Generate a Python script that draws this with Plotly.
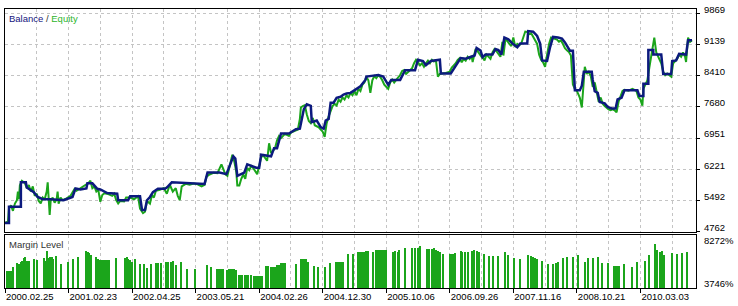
import plotly.graph_objects as go

# ---------------- data ----------------
bal_x = [0, 4, 4, 16, 16, 21, 22, 29, 33, 38, 46, 59, 68, 71, 76, 82, 83, 88, 93, 96, 103, 113, 114, 124, 126, 136,
         138, 141, 143, 146, 149, 154, 161, 163, 168, 183, 193, 201, 204, 216, 223, 230, 232, 234, 241, 244, 253, 256,
         258, 268, 271, 274, 278, 286, 293, 297, 301, 304, 308, 309, 314, 318, 321, 323, 326, 328, 331, 334, 338, 341,
         344, 348, 353, 358, 363, 364, 371, 376, 381, 386, 389, 398, 403, 413, 416, 421, 424, 429, 438, 439, 449, 454,
         459, 464, 473, 475, 479, 481, 484, 491, 494, 497, 500, 503, 507, 511, 516, 519, 526, 527, 532, 536, 539, 541,
         546, 549, 552, 557, 561, 564, 569, 572, 574, 579, 581, 583, 591, 592, 594, 597, 599, 604, 607, 611, 615, 617,
         621, 624, 637, 639, 643, 643, 648, 648, 653, 653, 661, 663, 671, 672, 676, 679, 686, 688, 692]
bal_y = [4967, 4967, 5346, 5346, 5916, 5916, 5795, 5688, 5574, 5521, 5521, 5498, 5574, 5772, 5749, 5772, 5893, 5893,
         5765, 5749, 5665, 5651, 5498, 5498, 5590, 5590, 5270, 5270, 5498, 5574, 5688, 5765, 5765, 5795, 5916, 5893,
         5893, 5879, 6144, 6144, 6107, 6524, 6472, 6068, 6144, 6335, 6258, 6258, 6563, 6524, 6714, 6714, 7056, 7056,
         7156, 7170, 7626, 7740, 7703, 7322, 7361, 7208, 7170, 7361, 7398, 7778, 7778, 7892, 7915, 7968, 7990, 8006,
         8082, 8159, 8310, 8387, 8410, 8424, 8387, 8196, 8310, 8310, 8538, 8538, 8782, 8752, 8652, 8752, 8782, 8462,
         8462, 8652, 8820, 8804, 8880, 9055, 8994, 8843, 8902, 8902, 9032, 9009, 8902, 9299, 9260, 9162, 9071, 9162,
         9162, 9450, 9436, 9336, 9162, 8766, 8752, 9071, 9313, 9299, 9276, 9185, 8994, 8994, 8068, 8068, 8173, 8501,
         8501, 8310, 8045, 8006, 7794, 7762, 7680, 7642, 7642, 7854, 7892, 8068, 8068, 7931, 7931, 8218, 8218, 9010,
         9010, 8902, 8902, 8446, 8446, 8752, 8766, 8918, 8902, 9238, 9238]

eq_x = [0, 3, 4, 6, 8, 10, 12, 13, 14, 15, 17, 20, 22, 24, 26, 28, 30, 32, 34, 36, 38, 40, 42, 43, 45, 46, 48, 50,
        52, 53, 54, 56, 58, 62, 66, 68, 70, 72, 76, 80, 84, 86, 88, 90, 92, 94, 96, 98, 100, 104, 108, 110, 112, 114,
        116, 120, 122, 126, 130, 134, 136, 139, 141, 143, 146, 148, 150, 152, 156, 160, 163, 166, 169, 172, 174, 176,
        178, 182, 186, 190, 194, 198, 201, 203, 206, 210, 214, 218, 220, 222, 224, 226, 228, 229, 231, 233, 234, 236,
        238, 240, 242, 244, 246, 248, 250, 252, 254, 256, 258, 260, 262, 264, 266, 268, 270, 272, 274, 276, 278, 282,
        286, 288, 292, 295, 297, 298, 300, 302, 304, 306, 308, 310, 312, 316, 318, 320, 322, 324, 326, 328, 330, 332,
        334, 336, 338, 340, 342, 344, 346, 348, 350, 352, 354, 356, 358, 360, 362, 364, 366, 368, 370, 372, 374, 376,
        378, 380, 382, 384, 386, 388, 390, 392, 394, 396, 398, 400, 402, 404, 406, 408, 410, 412, 414, 416, 418, 420,
        422, 424, 426, 428, 430, 432, 434, 436, 438, 440, 444, 448, 450, 452, 454, 456, 458, 460, 462, 464, 466, 468,
        470, 471, 473, 474, 476, 478, 480, 482, 483, 485, 487, 489, 491, 493, 495, 497, 499, 501, 502, 504, 506, 508,
        510, 512, 514, 516, 518, 520, 522, 524, 526, 528, 530, 532, 534, 536, 538, 540, 542, 544, 546, 548, 550, 552,
        554, 556, 558, 560, 562, 564, 566, 568, 570, 572, 574, 576, 578, 579, 581, 582, 584, 586, 588, 590, 592, 594,
        596, 598, 600, 602, 604, 606, 608, 610, 612, 614, 616, 618, 620, 622, 624, 628, 632, 636, 638, 640, 642, 643,
        645, 647, 649, 651, 654, 656, 658, 659, 661, 663, 665, 667, 669, 671, 673, 675, 677, 679, 681, 683, 685, 686,
        687, 688, 690, 692]
eq_y = [4967, 5000, 5300, 5380, 5250, 5420, 5500, 5700, 5520, 5850, 5950, 5900, 5780, 5850, 5700, 5820, 5600, 5650,
        5480, 5423, 5560, 5520, 5700, 5916, 5156, 5480, 5560, 5440, 5520, 5700, 5420, 5560, 5500, 5540, 5600, 5700,
        5760, 5720, 5780, 5850, 5900, 5955, 5780, 5820, 5700, 5740, 5460, 5620, 5660, 5640, 5600, 5650, 5500, 5420,
        5480, 5470, 5560, 5560, 5520, 5590, 5300, 5195, 5230, 5480, 5420, 5620, 5560, 5720, 5740, 5780, 5650, 5860,
        5700, 5780, 5600, 5500, 5820, 5880, 5860, 5890, 5870, 5820, 5860, 6050, 6100, 6140, 6130, 6335, 6200, 6100,
        6068, 6300, 6450, 6563, 6400, 6150, 5840, 5840, 6000, 6100, 6000, 6250, 6200, 6300, 6250, 6180, 6107, 6300,
        6500, 6550, 6480, 6420, 6828, 6600, 6650, 6720, 6900, 7000, 6950, 7050, 7000, 7080, 7120, 7150, 7400, 7664,
        7700, 7720, 7500, 7350, 7300, 7420, 7250, 7200, 7150, 7100, 6980, 7300, 7460, 7600, 7700, 7750, 7710, 7850,
        7800, 7900, 7850, 7950, 7900, 8000, 7950, 8050, 7950, 8100, 8050, 8200, 8250, 8380, 8300, 8006, 8300, 8400,
        8350, 8420, 8380, 8300, 8200, 8150, 8100, 8250, 8320, 8250, 8300, 8350, 8424, 8520, 8540, 8450, 8500, 8550,
        8580, 8700, 8780, 8720, 8650, 8700, 8620, 8700, 8760, 8700, 8780, 8740, 8780, 8387, 8450, 8460, 8470, 8500,
        8600, 8650, 8700, 8780, 8820, 8720, 8800, 8760, 8850, 8800, 8870, 8729, 8900, 9032, 8980, 8900, 8850, 8800,
        8766, 8900, 8850, 8804, 8950, 9030, 8980, 8900, 8850, 9200, 8880, 9250, 9220, 9150, 9100, 9299, 9080, 9150,
        9120, 9160, 9300, 9440, 9430, 9380, 9400, 9320, 9250, 9150, 8900, 8780, 8720, 8615, 8900, 9150, 9300, 9280,
        9260, 9250, 9200, 9230, 9150, 9050, 9000, 8960, 8880, 8200, 8100, 8050, 7950, 7892, 7664, 8000, 8615, 8450,
        8500, 8400, 8150, 8250, 8000, 7800, 7900, 7750, 7700, 7650, 7620, 7600, 7620, 7600, 7551, 7800, 7950, 8050,
        8080, 8060, 8100, 8050, 7900, 7850, 7710, 8100, 8200, 8300, 8600, 8900, 9299, 8950, 8850, 8766, 8700, 8500,
        8420, 8460, 8420, 8387, 8700, 8750, 8800, 8900, 8850, 8950, 8850, 8729, 9000, 9299, 9200, 9238]

ml_x = [2, 3, 5, 6, 8, 12, 13, 15, 16, 17, 19, 20, 21, 23, 24, 29, 32, 39, 40, 42, 44, 46, 48, 49, 52, 57, 64, 69,
        74, 82, 84, 85, 87, 92, 94, 96, 98, 99, 101, 103, 105, 112, 121, 123, 124, 126, 128, 131, 136, 140, 143, 147,
        152, 154, 157, 162, 164, 167, 169, 172, 177, 184, 192, 204, 208, 214, 216, 218, 220, 224, 226, 228, 229, 231,
        233, 236, 238, 239, 242, 243, 245, 248, 251, 253, 255, 257, 259, 263, 265, 268, 270, 272, 273, 274, 275, 276,
        278, 279, 280, 282, 293, 298, 300, 301, 303, 305, 311, 315, 323, 328, 334, 336, 338, 340, 341, 346, 351, 356,
        358, 360, 362, 363, 364, 366, 371, 374, 376, 378, 380, 382, 384, 391, 393, 396, 397, 403, 410, 413, 416, 418,
        425, 427, 430, 432, 434, 436, 438, 441, 448, 450, 451, 453, 459, 461, 464, 467, 471, 473, 476, 478, 483, 488,
        492, 497, 504, 507, 513, 519, 527, 530, 532, 534, 536, 541, 547, 552, 555, 557, 562, 566, 572, 577, 584, 587,
        592, 597, 602, 608, 614, 616, 617, 619, 624, 632, 637, 645, 649, 655, 657, 660, 662, 664, 672, 677, 682, 687]
ml_y = [5529, 5529, 5529, 5529, 5976, 6387, 6318, 6250, 6490, 6661, 6902, 7005, 6661, 6661, 6661, 6833, 6764, 6902,
        6661, 7622, 6902, 7005, 7005, 6833, 7108, 6318, 6490, 6833, 7005, 7690, 7587, 7450, 7245, 7005, 6833, 6730,
        6764, 6764, 6764, 6764, 6764, 6902, 6936, 7005, 6833, 6730, 6490, 6833, 6318, 6318, 5907, 6318, 6387, 6387,
        6387, 6490, 6558, 6558, 6627, 6216, 6558, 5804, 5804, 6216, 5976, 5735, 5735, 5735, 5735, 5632, 5804, 5804,
        5804, 5804, 5632, 5187, 5187, 5187, 5118, 5118, 5118, 5118, 5050, 5050, 5050, 5050, 5050, 6113, 6113, 6010,
        6010, 6010, 6010, 6144, 6144, 6144, 6390, 6390, 6390, 6390, 6288, 6833, 6833, 6833, 6833, 6555, 6113, 6010,
        6010, 6452, 6555, 6555, 6555, 6555, 6555, 7348, 7348, 7522, 7522, 7522, 7522, 7522, 7656, 7656, 7587, 7759,
        7759, 7759, 7759, 7759, 7759, 7587, 7690, 7587, 7793, 8034, 7931, 7931, 8034, 8171, 7862, 7862, 7862, 7931,
        7793, 7622, 7519, 7348, 7348, 7348, 7348, 7450, 7622, 7587, 7519, 7519, 7690, 7759, 7622, 7519, 7348, 7176,
        7176, 7176, 7587, 7245, 6902, 6833, 7245, 7108, 7005, 6936, 6833, 6661, 6318, 6318, 6387, 6558, 6902, 7073,
        7005, 7279, 6558, 6902, 6902, 7005, 6421, 6421, 6079, 6079, 6079, 6079, 6318, 6010, 6558, 6661, 7245, 8377,
        7793, 7587, 7622, 7245, 7450, 7348, 7450, 7587]

tick_pos = [0, 64, 128, 192, 256, 320, 384, 448, 512, 576, 640]
tick_dates = ["2000.02.25", "2001.02.23", "2002.04.25", "2003.05.21", "2004.02.26", "2004.12.30",
              "2005.10.06", "2006.09.26", "2007.11.16", "2008.10.21", "2010.03.03"]
bal_ticks = [4762, 5492, 6221, 6951, 7680, 8410, 9139, 9869]
ml_ticks = [3746, 8272]
ml_ticktext = ["3746%", "8272%"]

# ---------------- style ----------------
FONT = "Liberation Sans, Arial, sans-serif"
NAVY = "#0c1a7e"
GREEN = "#1ba51b"
GRID = "#c4c4c4"

fig = go.Figure()
fig.add_trace(go.Scatter(x=eq_x, y=eq_y, mode="lines", line=dict(color=GREEN, width=2),
                         xaxis="x", yaxis="y", hoverinfo="skip"))
fig.add_trace(go.Scatter(x=bal_x, y=bal_y, mode="lines", line=dict(color=NAVY, width=2.5),
                         xaxis="x", yaxis="y", hoverinfo="skip"))
fig.add_trace(go.Bar(x=ml_x, y=[v - 3746 for v in ml_y], base=3746, width=1.4,
                     marker=dict(color=GREEN, line=dict(width=0)),
                     xaxis="x2", yaxis="y2", hoverinfo="skip"))

XR = [0, 696]
grid32 = list(range(0, 700, 32))
minor_grid = [v for v in grid32 if v not in tick_pos]

fig.update_layout(
    width=738, height=306,
    margin=dict(l=4, r=38, t=4, b=16),
    paper_bgcolor="white", plot_bgcolor="white",
    showlegend=False, bargap=0,
    font=dict(family=FONT, size=9.5, color="#000000"),
    xaxis=dict(domain=[0, 1], anchor="y", range=XR, tickmode="array", tickvals=grid32,
               showticklabels=False, ticks="", showgrid=True, gridcolor=GRID, griddash="3px,3px",
               gridwidth=1, showline=True, linecolor="black", linewidth=1, mirror=True, zeroline=False),
    yaxis=dict(domain=[0.1993, 1], anchor="x", side="right", range=[4746, 9967], tickmode="array",
               tickvals=bal_ticks, ticktext=[str(v) for v in bal_ticks], ticks="outside", ticklen=3,
               tickcolor="black", ticklabelshift=-4, ticklabelstandoff=2, ticklabeloverflow="allow",
               showgrid=True, gridcolor=GRID, griddash="3px,3px", gridwidth=1,
               showline=True, linecolor="black", linewidth=1, mirror=True, zeroline=False),
    xaxis2=dict(domain=[0, 1], anchor="y2", range=XR, tickmode="array", tickvals=tick_pos,
                ticktext=tick_dates, ticks="outside", ticklen=4, tickcolor="black",
                ticklabelposition="outside right", ticklabeloverflow="allow",
                showgrid=True, gridcolor=GRID, griddash="3px,3px", gridwidth=1,
                minor=dict(tickmode="array", tickvals=minor_grid, showgrid=True, gridcolor=GRID,
                           griddash="3px,3px", ticks=""),
                showline=True, linecolor="black", linewidth=1, mirror=True, zeroline=False),
    yaxis2=dict(domain=[0, 0.1906], anchor="x2", side="right", range=[3746, 9354], tickmode="array",
                tickvals=ml_ticks, ticktext=ml_ticktext, ticks="", ticklabelshift=-4, ticklabelstandoff=5,
                ticklabeloverflow="allow",
                showgrid=False, showline=True, linecolor="black", linewidth=1, mirror=True, zeroline=False),
    annotations=[
        dict(xref="paper", yref="paper", x=0, y=1, xanchor="left", yanchor="top", xshift=2, yshift=-2,
             showarrow=False,
             text='<span style="color:#14147e">Balance</span> / <span style="color:#2cb52c">Equity</span>',
             font=dict(family=FONT, size=9.5, color="#333333")),
        dict(xref="paper", yref="paper", x=0, y=0.1906, xanchor="left", yanchor="top", xshift=2, yshift=-2,
             showarrow=False, text="Margin Level", font=dict(family=FONT, size=9.5, color="#333333")),
    ],
)

fig.write_html("out.html")
